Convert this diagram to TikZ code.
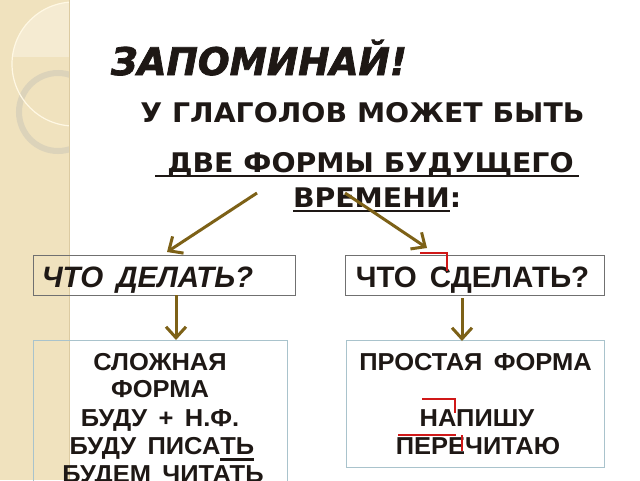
\documentclass[tikz,border=0pt]{standalone}
\usepackage{fontspec}
\setmainfont{Liberation Sans}
\newfontfamily\boxfont[FakeStretch=1.0,WordSpace=1.6]{Liberation Sans}
\newfontfamily\lowfont[FakeStretch=1.04,WordSpace=1.6]{Liberation Sans}
\newfontfamily\headfont[FakeStretch=1.05]{DejaVu Sans}
\newfontfamily\titlefont[FakeStretch=0.985,FakeBold=2]{DejaVu Sans}
\usetikzlibrary{arrows.meta}
\definecolor{ink}{HTML}{1E1815}
\definecolor{arrowc}{HTML}{7D6117}
\definecolor{strip}{HTML}{F0E2BE}
\definecolor{stripedge}{HTML}{DCCBA2}
\definecolor{striplight}{HTML}{F5EBD2}
\definecolor{ringc}{HTML}{DCD3BA}
\definecolor{arcc}{HTML}{FFF8E4}
\definecolor{markc}{HTML}{D01818}
\definecolor{topborder}{HTML}{707070}
\definecolor{botborder}{HTML}{A9C3CC}
\newcommand{\ulmark}[1]{\leavevmode\vtop{\hbox{#1}\kern4pt\hrule height 2.5pt}}
\begin{document}
\begin{tikzpicture}[x=1pt,y=-1pt,
  every node/.style={inner sep=0pt, outer sep=0pt, text=ink},
  topbox/.style={draw=topborder, line width=1pt, anchor=north west},
  botbox/.style={draw=botborder, line width=1pt, anchor=north west},
  ttxt/.style={font=\boxfont\bfseries\fontsize{29.5}{29.5}\selectfont, anchor=base},
  btxt/.style={font=\lowfont\bfseries\fontsize{24.5}{24.5}\selectfont, anchor=base},
  arr/.style={draw=arrowc, line width=3pt, -{Straight Barb[length=11pt,width=20pt,line width=3pt]}},
  pmark/.style={draw=markc, line width=2pt},
  ulinestyle/.style={draw=ink, line width=2.2pt}
]
\useasboundingbox (0,0) rectangle (640,480);
\clip (0,0) rectangle (640,480);
\fill[white] (0,0) rectangle (640,480);
% left decorative strip
\fill[strip] (0,0) rectangle (70,480);
\begin{scope}
  \clip (0,0) rectangle (69,480);
  \begin{scope}
    \clip (74,64) circle (62);
    \fill[striplight] (0,0) rectangle (70,57);
  \end{scope}
  \draw[ringc, line width=6pt] (58,112) circle (39);
  \draw[arcc, line width=1.2pt] (74,64) circle (62);
\end{scope}
\draw[stripedge, line width=1pt] (69.5,0) -- (69.5,480);
% title
\node[anchor=base west, font=\titlefont\bfseries\itshape\fontsize{38}{38}\selectfont] (title) at (111,75) {ЗАПОМИНАЙ!};
% header lines
\node[anchor=base, font=\headfont\bfseries\fontsize{27}{27}\selectfont] (l1) at (362.5,122) {У ГЛАГОЛОВ МОЖЕТ БЫТЬ};
\node[anchor=base, font=\headfont\bfseries\fontsize{27}{27}\selectfont] (l2) at (370.5,172) {ДВЕ ФОРМЫ БУДУЩЕГО};
\draw[ulinestyle] ([xshift=-12pt,yshift=-4pt]l2.base west) -- ([xshift=5pt,yshift=-4pt]l2.base east);
\node[anchor=base west, font=\headfont\bfseries\fontsize{27}{27}\selectfont] (l3) at (293,207) {ВРЕМЕНИ};
\node[anchor=base west, font=\headfont\bfseries\fontsize{27}{27}\selectfont] (l3c) at (l3.base east) {:};
\draw[ulinestyle] ([yshift=-4pt]l3.base west) -- ([yshift=-4pt]l3.base east);
% boxes
\node[topbox, minimum width=262pt, minimum height=40pt] (q1) at (33,255) {};
\node[topbox, minimum width=259pt, minimum height=40pt] (q2) at (345,255) {};
\node[botbox, minimum width=254pt, minimum height=170pt] (b1) at (33,340) {};
\node[botbox, minimum width=258pt, minimum height=127pt] (b2) at (346,340) {};
% box texts
\node[ttxt, font=\boxfont\bfseries\itshape\fontsize{29.5}{29.5}\selectfont] (t1) at (147.5,287) {ЧТО ДЕЛАТЬ?};
\node[ttxt] (t2) at (472.5,287) {ЧТО СДЕЛАТЬ?};
\node[btxt] (s1) at (160,370) {СЛОЖНАЯ};
\node[btxt] (s2) at (160,397) {ФОРМА};
\node[btxt] (s3) at (160,426) {БУДУ + Н.Ф.};
\node[btxt] (s4) at (162,454) {БУДУ ПИСА\ulmark{ТЬ}};
\node[btxt] (s5) at (163,482) {БУДЕМ ЧИТАТЬ};
\node[btxt] (p1) at (475.5,370) {ПРОСТАЯ ФОРМА};
\node[btxt] (p2) at (477,426) {НАПИШУ};
\node[btxt] (p3) at (478,454) {ПЕРЕЧИТАЮ};
% prefix marks
\draw[pmark] (420,253) -- (447,253) -- (447,271);
\draw[pmark] (422,399) -- (455,399) -- (455,413);
\draw[pmark] (398,435) -- (456,435);
\draw[pmark] (462,435) -- (462,451);
% arrows
\coordinate (a1s) at (257,193);
\coordinate (a1e) at (167,252);
\coordinate (a2s) at (345,193);
\coordinate (a2e) at (427,248);
\draw[arr] (a1s) -- (a1e);
\draw[arr] (a2s) -- (a2e);
\draw[arr] ([xshift=12pt]q1.south) -- ([xshift=12pt]q1.south |- b1.north);
\draw[arr] ([xshift=-12.5pt,yshift=-3pt]q2.south) -- ([xshift=-12.5pt,yshift=-1pt]q2.south |- b2.north);
\end{tikzpicture}
\end{document}
